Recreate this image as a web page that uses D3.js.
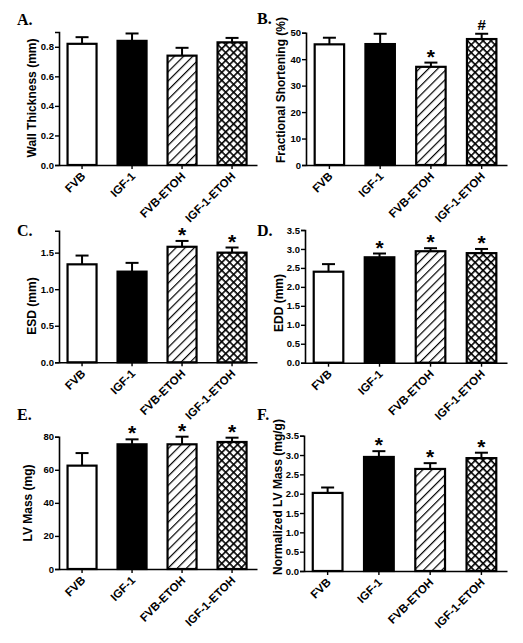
<!DOCTYPE html>
<html><head><meta charset="utf-8">
<script src="https://cdn.jsdelivr.net/npm/d3@7"></script>
<style>body{margin:0;background:#fff}svg{display:block}</style>
</head><body>
<script>
const categories = ["FVB","IGF-1","FVB-ETOH","IGF-1-ETOH"];

const wallThickness = [0.82,0.84,0.74,0.83];
const wallThicknessErr = [0.045,0.05,0.053,0.03];
const fracShortening = [45.6,45.7,37.1,47.6];
const fracShorteningErr = [2.5,3.9,1.6,2.0];
const esd = [1.34,1.24,1.58,1.50];
const esdErr = [0.12,0.12,0.08,0.07];
const edd = [2.40,2.78,2.94,2.89];
const eddErr = [0.20,0.10,0.08,0.11];
const lvMass = [62.5,75.4,75.4,76.8];
const lvMassErr = [7.6,3.0,4.6,2.6];
const normLvMass = [2.02,2.95,2.64,2.92];
const normLvMassErr = [0.14,0.15,0.15,0.14];

const marksA = ["","","",""];
const marksB = ["","","*","#"];
const marksC = ["","","*","*"];
const marksD = ["","*","*","*"];
const marksE = ["","*","*","*"];
const marksF = ["","*","*","*"];

const ticksA = [0,0.2,0.4,0.6,0.8];
const ticksB = [0,10,20,30,40,50];
const ticksC = [0,0.5,1.0,1.5];
const ticksD = [0,0.5,1.0,1.5,2.0,2.5,3.0,3.5];
const ticksE = [0,20,40,60,80];
const ticksF = [0,0.5,1.0,1.5,2.0,2.5,3.0,3.5];

const panels = [
  {letter:"A.", title:"Wall Thickness (mm)", vals:wallThickness, err:wallThicknessErr, marks:marksA, ticks:ticksA, max:0.9, fmt:".1f",
   x0:59, x1:257, y0:165, y1:32, lx:17, ly:25, tx:32, ty:98},
  {letter:"B.", title:"Fractional Shortening (%)", vals:fracShortening, err:fracShorteningErr, marks:marksB, ticks:ticksB, max:50, fmt:"d",
   x0:306, x1:507, y0:165, y1:32.7, lx:257, ly:24, tx:281, ty:90},
  {letter:"C.", title:"ESD (mm)", vals:esd, err:esdErr, marks:marksC, ticks:ticksC, max:1.8, fmt:".1f",
   x0:59, x1:257, y0:362.3, y1:230.7, lx:17, ly:236, tx:32, ty:306},
  {letter:"D.", title:"EDD (mm)", vals:edd, err:eddErr, marks:marksD, ticks:ticksD, max:3.5, fmt:".1f",
   x0:305, x1:507, y0:362.7, y1:230, lx:257, ly:236, tx:279, ty:303},
  {letter:"E.", title:"LV Mass (mg)", vals:lvMass, err:lvMassErr, marks:marksE, ticks:ticksE, max:80, fmt:"d",
   x0:59, x1:257, y0:569, y1:436.7, lx:17, ly:420, tx:28, ty:503},
  {letter:"F.", title:"Normalized LV Mass (mg/g)", vals:normLvMass, err:normLvMassErr, marks:marksF, ticks:ticksF, max:3.5, fmt:".1f",
   x0:304, x1:507, y0:571, y1:435.7, lx:257, ly:420, tx:278, ty:497}
];

const fills = ["#fff","#000","url(#hatch)","url(#cross)"];

const svg = d3.select("body").append("svg").attr("width",523).attr("height",643);
const defs = svg.append("defs");
const h = defs.append("pattern").attr("id","hatch").attr("patternUnits","userSpaceOnUse")
  .attr("width",6.5).attr("height",6.5).attr("patternTransform","rotate(45)");
h.append("rect").attr("width",6.5).attr("height",6.5).attr("fill","#fff");
h.append("line").attr("x1",0).attr("y1",0).attr("x2",0).attr("y2",6.5).attr("stroke","#000").attr("stroke-width",2.4);
const c = defs.append("pattern").attr("id","cross").attr("patternUnits","userSpaceOnUse")
  .attr("width",5.6).attr("height",5.6).attr("patternTransform","rotate(45)");
c.append("rect").attr("width",5.6).attr("height",5.6).attr("fill","#fff");
c.append("line").attr("x1",0).attr("y1",0).attr("x2",0).attr("y2",5.6).attr("stroke","#000").attr("stroke-width",3.2);
c.append("line").attr("x1",0).attr("y1",0).attr("x2",5.6).attr("y2",0).attr("stroke","#000").attr("stroke-width",3.2);

panels.forEach(p => {
  const g = svg.append("g");
  const x = d3.scaleBand().domain(categories).range([p.x0,p.x1]).paddingInner(0.42).paddingOuter(0.19).align(0.45);
  const y = d3.scaleLinear().domain([0,p.max]).range([p.y0,p.y1]);

  categories.forEach((cat,i) => {
    const bx = x(cat), bw = x.bandwidth(), cx = bx + bw/2;
    const top = y(p.vals[i]), et = y(p.vals[i]+p.err[i]);
    g.append("line").attr("x1",cx).attr("x2",cx).attr("y1",top).attr("y2",et).attr("stroke","#000").attr("stroke-width",2);
    g.append("line").attr("x1",cx-6.5).attr("x2",cx+6.5).attr("y1",et).attr("y2",et).attr("stroke","#000").attr("stroke-width",2);
    g.append("rect").attr("x",bx).attr("y",top).attr("width",bw).attr("height",p.y0-top)
      .attr("fill",fills[i]).attr("stroke","#000").attr("stroke-width",2.2);
    if (p.marks[i]) {
      const isStar = p.marks[i]==="*";
      g.append("text").attr("x",cx).attr("y",isStar ? et + 1 : et - 4)
        .attr("text-anchor","middle").attr("font-family","Liberation Sans, Arial, sans-serif")
        .attr("font-weight","bold").attr("font-size",isStar?21:15).text(p.marks[i]);
    }
  });

  const ya = g.append("g").attr("transform",`translate(${p.x0},0)`)
    .call(d3.axisLeft(y).tickValues(p.ticks).tickFormat(d3.format(p.fmt)).tickSize(4).tickSizeOuter(4).tickPadding(1));
  ya.select(".domain").attr("stroke-width",1.6);
  ya.selectAll(".tick line").attr("stroke-width",1.4);
  ya.selectAll("text").attr("font-family","Liberation Sans, Arial, sans-serif").attr("font-weight","bold").attr("font-size",9.5).attr("fill","#000");

  const xa = g.append("g").attr("transform",`translate(0,${p.y0})`)
    .call(d3.axisBottom(x).tickSize(4).tickSizeOuter(0));
  xa.select(".domain").attr("stroke-width",1.6);
  xa.selectAll(".tick line").attr("stroke-width",1.4);
  xa.selectAll("text").attr("font-family","Liberation Sans, Arial, sans-serif").attr("font-weight","bold").attr("font-size",11.5).attr("fill","#000")
    .attr("text-anchor","end").attr("dy",null).attr("y",0).attr("x",0)
    .attr("transform","translate(4,12) rotate(-45)");

  g.append("text").attr("transform",`translate(${p.tx},${p.ty}) rotate(-90)`).attr("text-anchor","middle")
    .attr("dominant-baseline","central")
    .attr("font-family","Liberation Sans, Arial, sans-serif").attr("font-weight","bold").attr("font-size",12).text(p.title);

  g.append("text").attr("x",p.lx).attr("y",p.ly).attr("font-family","Liberation Serif, Times New Roman, serif")
    .attr("font-weight","bold").attr("font-size",16).text(p.letter);
});
</script>
</body></html>
